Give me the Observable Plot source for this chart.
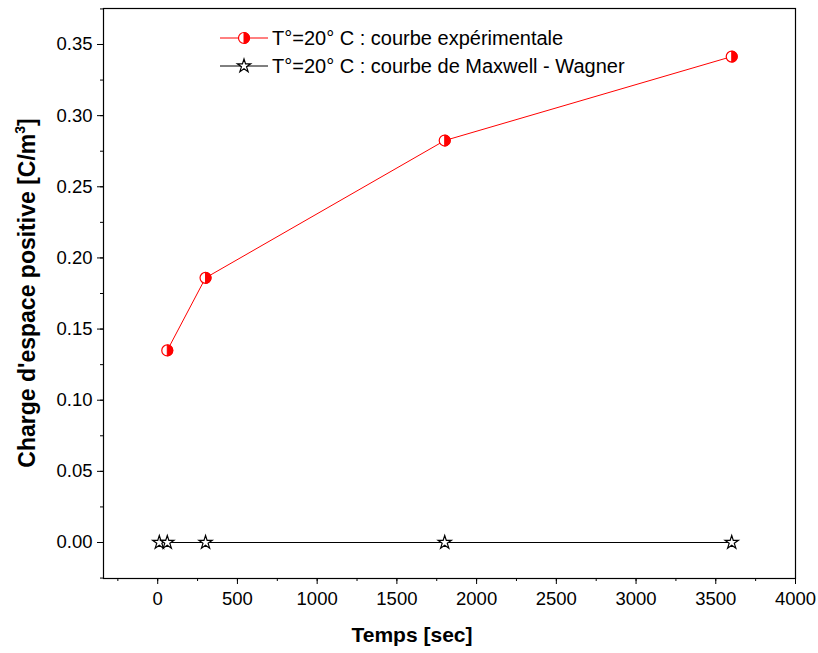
<!DOCTYPE html>
<html><head><meta charset="utf-8">
<script src="https://cdn.jsdelivr.net/npm/d3@7"></script>
<script src="https://cdn.jsdelivr.net/npm/@observablehq/plot@0.6"></script>
<style>body{margin:0;background:#fff;font-family:"Liberation Sans",Arial,sans-serif}</style>
</head><body><div id="chart"></div>
<script>
const expTime = [60, 300, 1800, 3600];
const expCharge = [0.135, 0.186, 0.2825, 0.3415];
const mwTime = [10, 60, 300, 1800, 3600];
const mwCharge = [0, 0, 0, 0, 0];
const xTicks = [0, 500, 1000, 1500, 2000, 2500, 3000, 3500, 4000];
const yTicks = [0, 0.05, 0.10, 0.15, 0.20, 0.25, 0.30, 0.35];
const legendLabels = ["T°=20° C : courbe expérimentale", "T°=20° C : courbe de Maxwell - Wagner"];

const expData = expTime.map((t, i) => ({t, v: expCharge[i]}));
const mwData = mwTime.map((t, i) => ({t, v: mwCharge[i]}));
const xMinor = d3.range(-250, 4001, 250);
const yMinor = d3.range(-0.025, 0.3751, 0.025);

const halfDisk = {draw(ctx, size) {
  const r = Math.sqrt(size / Math.PI);
  ctx.moveTo(0, -r);
  ctx.arc(0, 0, r, -Math.PI / 2, Math.PI / 2);
  ctx.closePath();
}};

const W = 818, H = 653;
const plot = Plot.plot({
  width: W, height: H,
  marginLeft: 103, marginRight: 23, marginTop: 8, marginBottom: 75,
  style: {fontFamily: "'Liberation Sans', Arial, sans-serif", fontSize: "18px", background: "#fff"},
  x: {domain: [-340, 4000], label: null},
  y: {domain: [-0.0253, 0.3753], label: null},
  marks: [
    Plot.frame({stroke: "#000", strokeWidth: 1.2}),
    Plot.axisX({ticks: xTicks, tickSize: 6, tickPadding: 7, tickFormat: d => String(d), fontSize: 18.5, stroke: "#000", fill: "#000"}),
    Plot.axisX({ticks: xMinor, tickSize: 3, tickFormat: () => "", stroke: "#000"}),
    Plot.axisY({ticks: yTicks, tickSize: 6, tickPadding: 5, tickFormat: d3.format(".2f"), fontSize: 18.5, stroke: "#000", fill: "#000"}),
    Plot.axisY({ticks: yMinor, tickSize: 3, tickFormat: () => "", stroke: "#000"}),
    Plot.line(mwData, {x: "t", y: "v", stroke: "#000", strokeWidth: 1}),
    Plot.dot(mwData, {x: "t", y: "v", symbol: "star", r: 4.2, fill: "#fff", stroke: "#000", strokeWidth: 1.2}),
    Plot.line(expData, {x: "t", y: "v", stroke: "#ff0000", strokeWidth: 1}),
    Plot.dot(expData, {x: "t", y: "v", r: 5.5, fill: "#fff", stroke: "#ff0000", strokeWidth: 1.2}),
    Plot.dot(expData, {x: "t", y: "v", symbol: halfDisk, r: 5.5, fill: "#ff0000", stroke: "#ff0000", strokeWidth: 1})
  ]
});
document.getElementById("chart").appendChild(plot);

const svg = d3.select(plot);
const font = "'Liberation Sans', Arial, sans-serif";
// Axis titles
svg.append("text").attr("x", 412).attr("y", 642).attr("text-anchor", "middle")
  .attr("font-family", font).attr("font-weight", "bold").attr("font-size", 21)
  .attr("fill", "#000").text("Temps [sec]");
const yt = svg.append("text").attr("transform", "translate(35,293) rotate(-90)")
  .attr("text-anchor", "middle").attr("font-family", font).attr("font-weight", "bold")
  .attr("font-size", 23).attr("fill", "#000");
yt.append("tspan").text("Charge d'espace positive [C/m");
yt.append("tspan").attr("dy", -10).attr("font-size", 14).text("3");
yt.append("tspan").attr("dy", 10).text("]");

// Legend
const lg = svg.append("g").attr("font-family", font).attr("font-size", 20).attr("fill", "#000")
  .attr("text-anchor", "start");
const rows = [
  {y: 38, color: "#ff0000", kind: "exp"},
  {y: 66, color: "#000", kind: "mw"}
];
rows.forEach((r, i) => {
  lg.append("line").attr("x1", 220).attr("x2", 268).attr("y1", r.y).attr("y2", r.y)
    .attr("stroke", r.color).attr("stroke-width", 1);
  if (r.kind === "exp") {
    lg.append("circle").attr("cx", 244).attr("cy", r.y).attr("r", 5.5)
      .attr("fill", "#fff").attr("stroke", "#ff0000").attr("stroke-width", 1.2);
    lg.append("path").attr("transform", `translate(244,${r.y})`)
      .attr("d", d3.symbol(halfDisk, Math.PI * 5.5 * 5.5)()).attr("fill", "#ff0000").attr("stroke", "#ff0000");
  } else {
    lg.append("path").attr("transform", `translate(244,${r.y})`)
      .attr("d", d3.symbol(d3.symbolStar, Math.PI * 4.2 * 4.2)()).attr("fill", "#fff").attr("stroke", "#000").attr("stroke-width", 1.2);
  }
  lg.append("text").attr("x", 272).attr("y", r.y).attr("dy", "0.35em").attr("text-anchor", "start").text(legendLabels[i]);
});
</script></body></html>
